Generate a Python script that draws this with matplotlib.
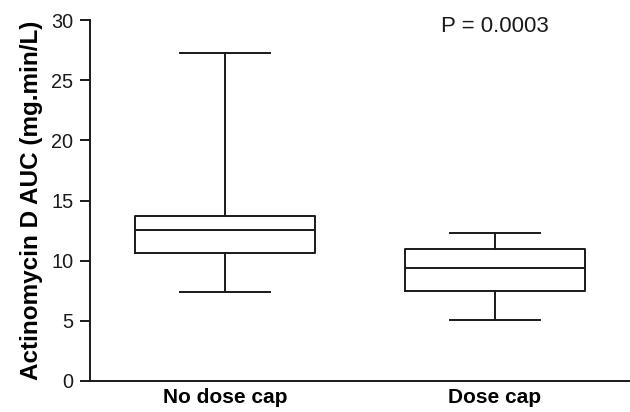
import matplotlib
matplotlib.use("Agg")
import matplotlib.pyplot as plt

plt.rcParams['font.family'] = ['Liberation Sans', 'DejaVu Sans']

categories = ["No dose cap", "Dose cap"]
whisker_low = [7.37, 5.04]
q1 = [10.64, 7.48]
median = [12.55, 9.39]
q3 = [13.74, 10.97]
whisker_high = [27.24, 12.30]
p_text = "P = 0.0003"

stats = []
for i, c in enumerate(categories):
    stats.append(dict(label=c, whislo=whisker_low[i], q1=q1[i], med=median[i],
                      q3=q3[i], whishi=whisker_high[i], fliers=[]))

fig = plt.figure(figsize=(6.3, 4.12), dpi=100)
ax = fig.add_axes([90/630, 1-381/412, 1-90/630, (381-20)/412])

lw = 1.4
ax.bxp(stats, positions=[1, 2], widths=0.667, showfliers=False,
       boxprops=dict(color='#1a1a1a', linewidth=lw),
       medianprops=dict(color='#1a1a1a', linewidth=lw),
       whiskerprops=dict(color='#1a1a1a', linewidth=lw),
       capprops=dict(color='#1a1a1a', linewidth=lw),
       capwidths=0.33)

ax.set_xlim(0.5, 2.5)
ax.set_ylim(0, 30)
ax.set_yticks([0, 5, 10, 15, 20, 25, 30])
ax.spines['top'].set_visible(False)
ax.spines['right'].set_visible(False)
for s in ['left', 'bottom']:
    ax.spines[s].set_linewidth(lw)
    ax.spines[s].set_color('#1a1a1a')
ax.tick_params(axis='y', length=7, width=lw, labelsize=14.3, colors='#1a1a1a', pad=5)
ax.tick_params(axis='x', length=0, labelsize=15, pad=5)
for t in ax.get_xticklabels():
    t.set_fontweight('bold')
ax.set_ylabel("Actinomycin D AUC (mg.min/L)", fontsize=17.5, fontweight='bold', labelpad=6)
ax.text(2.0, 29.5, p_text, ha='center', va='center', fontsize=16, color='#1a1a1a')

fig.savefig("out.png", dpi=100)
